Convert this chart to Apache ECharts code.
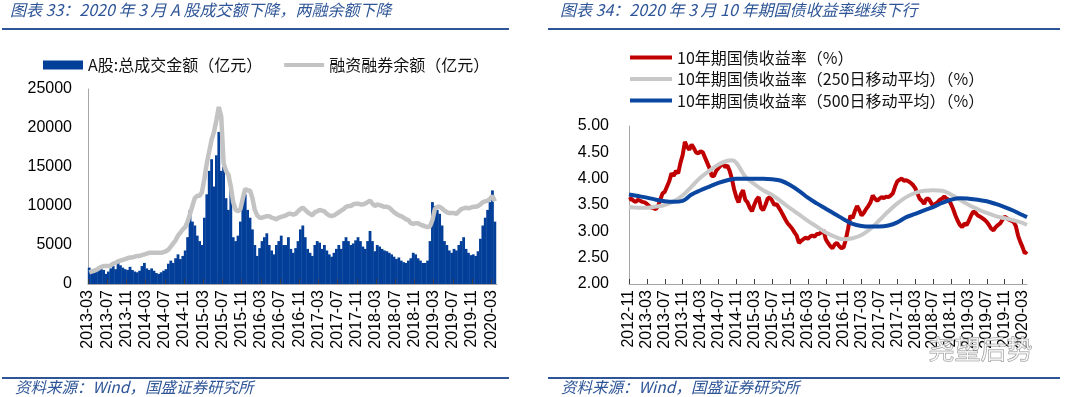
<!DOCTYPE html>
<html><head><meta charset="utf-8">
<script src="https://cdn.jsdelivr.net/npm/echarts@6/dist/echarts.min.js"></script>
<style>html,body{margin:0;padding:0;background:#fff}#c{width:1080px;height:397px}</style>
</head><body><div id="c"></div>
<script>
// ---------- Left chart data (semi-monthly, 2013-03 .. 2020-03) ----------
const leftStart = '2013-03';
const leftTicks = ['2013-03','2013-07','2013-11','2014-03','2014-07','2014-11','2015-03','2015-07','2015-11','2016-03','2016-07','2016-11','2017-03','2017-07','2017-11','2018-03','2018-07','2018-11','2019-03','2019-07','2019-11','2020-03'];
const turnoverName = 'A股:总成交金额（亿元）';
const marginName = '融资融券余额（亿元）';
const turnover = [
 2100,1700, 1500,1800, 2200,2000, 1800,1300, 1600,2000, 2300,1900, 2800,2400, 2100,1900, 1800,2200, 1800,1600,
 1500,1700, 2300,2700, 2000,1800, 2000,1700, 1400,1300, 1500,1700, 1900,2600, 3000,2700, 3300,3800, 3200,3600, 4300,6000, 9500,8000,
 7500,6200, 5500,5000, 8500,11500, 14500,16000, 12500,16500, 19500,14500, 15000,11000, 9500,12500, 6000,5500, 6200,8000, 10500,11500, 9500,8500,
 7000,5000, 3600,4600, 5500,6000, 6500,5000, 4300,3800, 5000,5500, 6200,5000, 5000,6000, 4500,4000, 4600,5500, 7000,7500, 6000,4500,
 4000,3600, 5000,5500, 5300,4500, 5000,4300, 3800,3500, 4000,4500, 5000,4500, 5500,6000, 5500,5000, 5200,5600, 6000,5500, 4800,4500,
 5500,6800, 5500,4200, 5000,4800, 4500,4300, 4200,4000, 3800,3500, 3200,3400, 3000,2800, 2700,3000, 3300,4000, 3800,3300, 3000,2700,
 2700,3000, 5500,10500, 10000,9500, 9000,7500, 5500,5000, 4300,4000, 4500,4300, 5000,5500, 6000,4500, 4000,3700, 3800,3600, 4200,5800,
 7500,8500, 9500,10500, 12000,8000
];
const margin = [
 1500,1600, 1700,1800, 2000,2200, 2300,2300, 2300,2400, 2600,2700, 2900,3000, 3100,3200, 3300,3400, 3400,3500,
 3600,3600, 3700,3800, 3900,4000, 4000,4000, 4000,4000, 4000,4100, 4200,4400, 4800,5200, 5600,6200, 6600,7000, 7300,8000, 9000,10000,
 11000,11300, 11300,11800, 13500,15500, 17000,18500, 19500,21000, 22700,21500, 15500,14500, 14000,12500, 10500,9500, 9300,9600, 11000,12200, 12000,12000,
 11000,9500, 8800,8500, 8500,8600, 8700,8700, 8500,8400, 8300,8500, 8600,8700, 8800,9000, 9000,8900, 9000,9300, 9600,9800, 9500,9200,
 9000,8800, 9200,9300, 9500,9400, 9300,9000, 8800,8700, 8800,9000, 9200,9400, 9600,9900, 10000,10000, 10200,10300, 10300,10200, 10200,10300,
 10500,10700, 10300,10000, 10200,10100, 10000,9900, 9900,9800, 9500,9200, 9000,8800, 8700,8500, 8300,8200, 7800,7700, 7800,7800, 7600,7500,
 7400,7300, 7400,8200, 9600,9900, 9900,9700, 9400,9200, 9100,9100, 9100,9000, 9300,9600, 9700,9800, 9700,9800, 9900,9900, 10000,10200,
 10500,10600, 10700,10900, 11300,10600
];

// ---------- Right chart data ----------
const rightStart = '2012-11';
const rightTicks = ['2012-11','2013-03','2013-07','2013-11','2014-03','2014-07','2014-11','2015-03','2015-07','2015-11','2016-03','2016-07','2016-11','2017-03','2017-07','2017-11','2018-03','2018-07','2018-11','2019-03','2019-07','2019-11','2020-03'];
const yieldName = '10年期国债收益率（%）';
const ma250Name = '10年期国债收益率（250日移动平均）（%）';
const ma500Name = '10年期国债收益率（500日移动平均）（%）';
// semi-monthly from 2012-11-01
const yield10 = [
 3.60,3.62, 3.58,3.56, 3.60,3.58, 3.56,3.55, 3.52,3.48, 3.45,3.44, 3.42,3.48, 3.60,3.72, 3.75,3.85, 3.95,4.10, 4.05,4.15, 4.10,4.30,
 4.45,4.70, 4.60,4.55, 4.65,4.58, 4.50,4.48, 4.52,4.50, 4.40,4.30, 4.20,4.05, 4.05,4.15, 4.20,4.25, 4.28,4.22, 4.25,4.15, 4.00,3.80,
 3.65,3.55, 3.70,3.78, 3.60,3.55, 3.45,3.38, 3.50,3.60, 3.65,3.45, 3.40,3.50, 3.62,3.65, 3.58,3.50, 3.52,3.45, 3.38,3.30, 3.22,3.15,
 3.10,3.05, 2.98,2.92, 2.78,2.82, 2.85,2.88, 2.86,2.90, 2.92,2.90, 2.95,2.95, 2.98,3.02, 2.85,2.78, 2.72,2.68, 2.75,2.78, 2.72,2.68,
 2.70,2.85, 3.05,3.30, 3.25,3.38, 3.48,3.40, 3.30,3.35, 3.42,3.48, 3.55,3.68, 3.62,3.58, 3.62,3.65, 3.63,3.66, 3.65,3.68, 3.72,3.85,
 3.95,3.98, 4.00,3.96, 3.97,3.95, 3.92,3.88, 3.82,3.72, 3.62,3.58, 3.52,3.62, 3.62,3.55, 3.48,3.52, 3.55,3.60, 3.62,3.66, 3.62,3.60,
 3.52,3.42, 3.30,3.20, 3.12,3.08, 3.15,3.12, 3.20,3.30, 3.38,3.35, 3.30,3.28, 3.25,3.22, 3.18,3.12, 3.05,3.02, 3.08,3.12, 3.15,3.22,
 3.28,3.25, 3.22,3.20, 3.18,3.10, 2.92,2.80, 2.70,2.58, 2.62
];
const ma250Dates = ['2012-11','2013-01','2013-03','2013-05','2013-07','2013-09','2013-11','2014-01','2014-03','2014-05','2014-07','2014-09','2014-10','2014-11','2015-01','2015-03','2015-05','2015-07','2015-09','2015-11','2016-01','2016-03','2016-05','2016-07','2016-09','2016-11','2017-01','2017-03','2017-05','2017-07','2017-09','2017-11','2018-01','2018-03','2018-05','2018-07','2018-09','2018-11','2019-01','2019-03','2019-05','2019-07','2019-09','2019-11','2020-01','2020-03','2020-04'];
const ma250 = [3.46,3.45,3.45,3.47,3.50,3.57,3.68,3.85,4.02,4.15,4.27,4.34,4.35,4.30,4.04,3.90,3.78,3.69,3.57,3.44,3.32,3.20,3.09,2.98,2.90,2.85,2.87,2.93,3.05,3.21,3.38,3.53,3.65,3.73,3.77,3.78,3.77,3.70,3.60,3.50,3.42,3.35,3.29,3.25,3.21,3.16,3.12];
const ma500Dates = ['2012-11','2013-01','2013-03','2013-05','2013-07','2013-09','2013-11','2014-01','2014-03','2014-05','2014-07','2014-09','2014-11','2015-01','2015-03','2015-05','2015-07','2015-09','2015-11','2016-01','2016-03','2016-05','2016-07','2016-09','2016-11','2017-01','2017-03','2017-05','2017-07','2017-09','2017-11','2018-01','2018-03','2018-05','2018-07','2018-09','2018-11','2019-01','2019-03','2019-05','2019-07','2019-09','2019-11','2020-01','2020-03','2020-04'];
const ma500 = [3.70,3.67,3.64,3.60,3.57,3.56,3.58,3.70,3.78,3.85,3.92,3.97,4.00,4.00,4.00,4.00,3.99,3.96,3.88,3.77,3.64,3.53,3.43,3.33,3.23,3.14,3.10,3.09,3.09,3.11,3.17,3.27,3.33,3.40,3.46,3.54,3.60,3.63,3.62,3.60,3.57,3.52,3.46,3.39,3.31,3.27];

// ---------- helpers ----------
function mIdx(d, base){const a=d.split('-').map(Number), b=base.split('-').map(Number);return (a[0]-b[0])*12+(a[1]-b[1]);}
const leftTickVals = leftTicks.map(t=>mIdx(t,leftStart));
const rightTickVals = rightTicks.map(t=>mIdx(t,rightStart));
const turnoverData = turnover.map((v,k)=>[k/2+0.25, v]);
const marginData = margin.map((v,k)=>[k/2+0.25, v]);
const yieldData = yield10.map((v,k)=>[k/2, v]);
const ma250Data = ma250.map((v,k)=>[mIdx(ma250Dates[k],rightStart), v]);
const ma500Data = ma500.map((v,k)=>[mIdx(ma500Dates[k],rightStart), v]);

const BLUE = '#2E5597';
const CJK = '"Noto Sans CJK SC", sans-serif';
const NUM = '"Liberation Sans", Arial, sans-serif';
const axisGray = '#A6A6A6';
// thin centred line inside a 40x9 legend box
const LINE_ICON_9 = 'path://M0,0h0.01v0.01h-0.01z M0,2.6h40v3.8h-40z M0,8.99h0.01v0.01h-0.01z';

function hText(x,y,text,size){return {type:'text',left:x,top:y,style:{text,fill:BLUE,font:'italic '+size+'px '+CJK}};}
function rule(x,y,w){return {type:'rect',shape:{x,y,width:w,height:2},style:{fill:BLUE}};}

const chart = echarts.init(document.getElementById('c'), null, {renderer:'canvas'});
chart.setOption({
  animation:false,
  backgroundColor:'#fff',
  graphic:[
    hText(10,2,'图表 33：2020 年 3 月 A 股成交额下降，两融余额下降',16),
    hText(560,2,'图表 34：2020 年 3 月 10 年期国债收益率继续下行',16),
    rule(2,28,507), rule(548,28,512),
    rule(2,377,507), rule(548,377,512),
    hText(15,379,'资料来源：Wind，国盛证券研究所',15.5),
    hText(561,379,'资料来源：Wind，国盛证券研究所',15.5),
    {type:'text',left:928,top:336,z:100,style:{text:'尧望后势',fill:'rgba(255,255,255,0.7)',stroke:'#8f8f8f',lineWidth:1,font:'26px '+CJK}}
  ],
  legend:[
    {left:43,top:57,padding:0,itemWidth:40,itemHeight:9,itemGap:22,
     textStyle:{fontSize:16,fontFamily:CJK,color:'#111'},
     data:[{name:turnoverName,icon:'rect'},{name:marginName,icon:LINE_ICON_9}]},
    {left:630,top:49,padding:0,orient:'vertical',itemWidth:42,itemHeight:4,itemGap:4.5,
     textStyle:{fontSize:16,fontFamily:CJK,color:'#111',lineHeight:17},
     data:[{name:yieldName,icon:'rect'},{name:ma250Name,icon:'rect'},{name:ma500Name,icon:'rect'}]}
  ],
  grid:[
    {left:88,top:89,width:409,height:195},
    {left:629,top:126,width:398,height:158}
  ],
  xAxis:[
    {type:'value',gridIndex:0,min:0,max:85.2,z:5,
     axisLine:{lineStyle:{color:axisGray,width:1}},
     axisTick:{inside:true,length:5,customValues:leftTickVals,lineStyle:{color:'#404040'}},
     axisLabel:{customValues:leftTickVals,rotate:90,margin:6,fontSize:16,fontFamily:NUM,color:'#000',
       formatter:v=>leftTicks[leftTickVals.indexOf(Math.round(v))]||''},
     splitLine:{show:false}},
    {type:'value',gridIndex:1,min:0,max:89,z:5,
     axisLine:{lineStyle:{color:axisGray,width:1}},
     axisTick:{inside:true,length:5,customValues:rightTickVals,lineStyle:{color:'#404040'}},
     axisLabel:{customValues:rightTickVals,rotate:90,margin:6,fontSize:16,fontFamily:NUM,color:'#000',
       formatter:v=>rightTicks[rightTickVals.indexOf(Math.round(v))]||''},
     splitLine:{show:false}}
  ],
  yAxis:[
    {type:'value',gridIndex:0,min:0,max:25000,interval:5000,
     axisLine:{show:true,lineStyle:{color:axisGray}},axisTick:{show:false},
     axisLabel:{fontSize:16,fontFamily:NUM,color:'#000',margin:16,formatter:v=>String(v)},splitLine:{show:false}},
    {type:'value',gridIndex:1,min:2,max:5,interval:0.5,
     axisLine:{show:true,lineStyle:{color:axisGray}},axisTick:{show:false},
     axisLabel:{fontSize:16,fontFamily:NUM,color:'#000',margin:20,formatter:v=>v.toFixed(2)},splitLine:{show:false}}
  ],
  series:[
    {name:turnoverName,type:'bar',xAxisIndex:0,yAxisIndex:0,data:turnoverData,barWidth:2.8,
     itemStyle:{color:'#033F98'},z:2},
    {name:marginName,type:'line',xAxisIndex:0,yAxisIndex:0,data:marginData,symbol:'none',
     lineStyle:{color:'#C3C3C3',width:4.5},itemStyle:{color:'#C3C3C3'},z:3},
    {name:yieldName,type:'line',xAxisIndex:1,yAxisIndex:1,data:yieldData,symbol:'none',
     lineStyle:{color:'#C00000',width:4},itemStyle:{color:'#C00000'},z:2},
    {name:ma250Name,type:'line',xAxisIndex:1,yAxisIndex:1,data:ma250Data,symbol:'none',smooth:0.4,
     lineStyle:{color:'#C8C8C8',width:4},itemStyle:{color:'#C8C8C8'},z:3},
    {name:ma500Name,type:'line',xAxisIndex:1,yAxisIndex:1,data:ma500Data,symbol:'none',smooth:0.4,
     lineStyle:{color:'#0B47A0',width:4},itemStyle:{color:'#0B47A0'},z:4}
  ]
});
</script>
</body></html>
